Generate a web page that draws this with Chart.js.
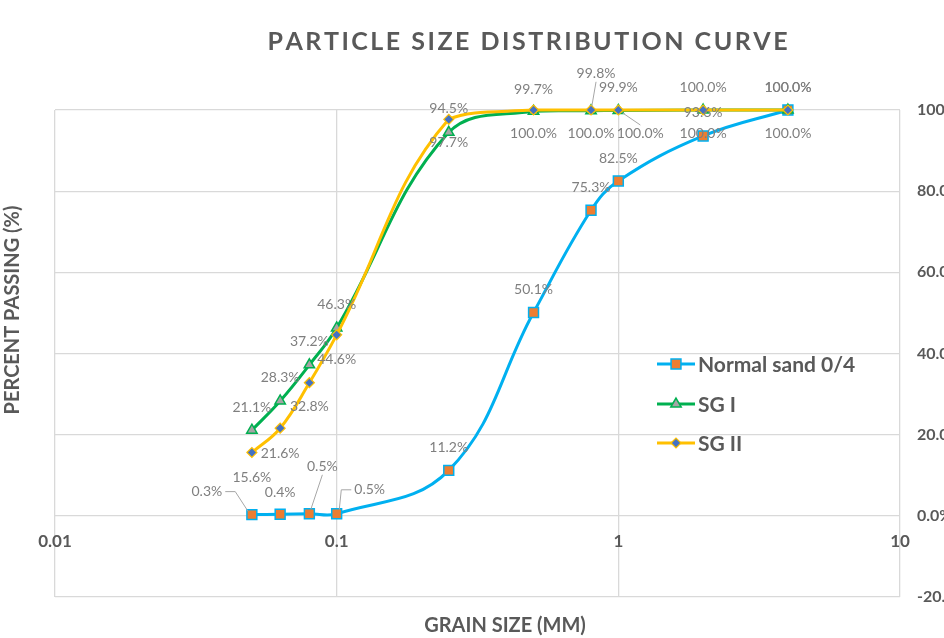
<!DOCTYPE html>
<html><head><meta charset="utf-8">
<script src="https://cdn.jsdelivr.net/npm/chart.js@4/dist/chart.umd.min.js"></script>
<style>html,body{margin:0;padding:0;background:#fff}#wrap{width:944px;height:638px;position:relative}</style>
</head><body><div id="wrap"><canvas id="c" width="944" height="638"></canvas></div>
<script>
// ---- data ----
const chartTitle = 'PARTICLE SIZE DISTRIBUTION CURVE';
const xAxisTitle = 'GRAIN SIZE (MM)';
const yAxisTitle = 'PERCENT PASSING (%)';
const grainSizes = [0.05, 0.063, 0.08, 0.1, 0.25, 0.5, 0.8, 1, 2, 4];
const normalSand = [0.3, 0.4, 0.5, 0.5, 11.2, 50.1, 75.3, 82.5, 93.6, 100];
const sgI = [21.1, 28.3, 37.2, 46.3, 94.5, 99.7, 99.8, 99.9, 100, 100];
const sgII = [15.6, 21.6, 32.8, 44.6, 97.7, 100, 100, 100, 100, 100];
const seriesNames = ['Normal sand 0/4', 'SG I', 'SG II'];
const xTickValues = [0.01, 0.1, 1, 10];
const xTickLabels = ['0.01', '0.1', '1', '10'];
const yMin = -20, yMax = 100, yStep = 20;

// ---- label placement (style: offset dx, dy in px, leader line flag) ----
const normalLabelPos = [[-45,-23,1],[0,-22,0],[13,-47,1],[33,-24,1],[0,-23,0],[0,-23,0],[0,-23,0],[0,-23,0],[0,-23,0],[0,-23,0]];
const sgILabelPos = [[0,-23,0],[0,-23,0],[0,-23,0],[0,-23,0],[0,-24,0],[0,-22,0],[5,-37,1],[0,-23,0],[0,-23,0],[0,-23,0]];
const sgIILabelPos = [[0,25,0],[0,25,0],[0,24,0],[0,25,0],[0,23,0],[0,23,0],[0,23,0],[22,23,1],[0,23,0],[0,23,0]];

const FONT = 'Lato, "Liberation Sans", sans-serif';
const AXIS_COLOR = '#595959';

const toPts = arr => grainSizes.map((x, i) => ({x: x, y: arr[i]}));

const styles = [
  {line:'#00B0F0', fill:'#ED7D31', stroke:'#00B0F0', shape:'rect', r:7, bw:1.5},
  {line:'#00B050', fill:'#A5A5A5', stroke:'#00B050', shape:'triangle', r:6, bw:1.5},
  {line:'#FFC000', fill:'#4472C4', stroke:'#FFC000', shape:'rectRot', r:5, bw:1.2}
];
const seriesData = [normalSand, sgI, sgII];
const labelPos = [normalLabelPos, sgILabelPos, sgIILabelPos];

const datasets = seriesData.map((arr, k) => ({
  label: seriesNames[k],
  data: toPts(arr),
  borderColor: styles[k].line,
  borderWidth: 3,
  tension: 0.4,
  pointStyle: styles[k].shape,
  pointRadius: styles[k].r,
  pointBackgroundColor: styles[k].fill,
  pointBorderColor: styles[k].stroke,
  pointBorderWidth: styles[k].bw,
  clip: false,
  order: 3 - k
}));

const decor = {
  id: 'decor',
  afterDatasetsDraw(chart) {
    const ctx = chart.ctx;
    const xs = chart.scales.x, ys = chart.scales.y;
    ctx.save();
    // x tick labels next to the 0 line
    ctx.font = 'bold 17px ' + FONT;
    ctx.fillStyle = AXIS_COLOR;
    ctx.textAlign = 'center';
    ctx.textBaseline = 'middle';
    const y0 = ys.getPixelForValue(0);
    xTickValues.forEach((v, i) => {
      ctx.fillText(xTickLabels[i], xs.getPixelForValue(v), y0 + 26);
    });
    // data labels
    ctx.font = '14px ' + FONT;
    for (let k = 0; k < 3; k++) {
      const meta = chart.getDatasetMeta(k);
      meta.data.forEach((pt, i) => {
        const [dx, dy, leader] = labelPos[k][i];
        const lx = pt.x + dx, ly = pt.y + dy;
        const txt = seriesData[k][i].toFixed(1) + '%';
        const w = ctx.measureText(txt).width;
        if (leader) {
          const side = Math.abs(dx) > w / 2 + 2;
          let sx, sy;
          if (side) { sx = lx + Math.sign(-dx) * (w / 2 + 3); sy = ly; }
          else { sx = lx; sy = ly + Math.sign(-dy) * 8; }
          const vx = pt.x - sx, vy = pt.y - sy;
          const len = Math.hypot(vx, vy);
          const ex = pt.x - vx / len * 5, ey = pt.y - vy / len * 5;
          ctx.strokeStyle = '#a6a6a6';
          ctx.lineWidth = 1;
          ctx.beginPath();
          ctx.moveTo(sx, sy);
          if (side) ctx.lineTo(sx + Math.sign(-dx) * 10, sy);
          ctx.lineTo(ex, ey);
          ctx.stroke();
        }
        ctx.fillStyle = '#7f7f7f';
        ctx.fillText(txt, lx, ly);
      });
    }
    ctx.restore();
  },
  afterDraw(chart) {
    const ctx = chart.ctx;
    const ca = chart.chartArea;
    ctx.save();
    ctx.fillStyle = AXIS_COLOR;
    // title with letter spacing
    ctx.font = 'bold 25px ' + FONT;
    ctx.textBaseline = 'middle';
    ctx.textAlign = 'left';
    const spacing = 2.5;
    const chars = chartTitle.split('');
    const total = chars.reduce((s, c) => s + ctx.measureText(c).width, 0) + spacing * (chars.length - 1);
    let cx = ca.left + (ca.right - ca.left) / 2 + 50 - total / 2;
    chars.forEach(c => { ctx.fillText(c, cx, 42); cx += ctx.measureText(c).width + spacing; });
    // x axis title
    ctx.font = 'bold 20px ' + FONT;
    ctx.textAlign = 'center';
    ctx.fillText(xAxisTitle, 505, ca.bottom + 29);
    // y axis title
    ctx.save();
    ctx.translate(13, 310);
    ctx.rotate(-Math.PI / 2);
    ctx.font = 'bold 20px ' + FONT;
    ctx.fillText(yAxisTitle, 0, 0);
    ctx.restore();
    // legend
    const lx0 = ca.right - 243, lx1 = ca.right - 205, mx = (lx0 + lx1) / 2;
    const rows = [364, 404, 443];
    ctx.font = 'bold 21px ' + FONT;
    ctx.textAlign = 'left';
    for (let k = 0; k < 3; k++) {
      const y = rows[k];
      ctx.strokeStyle = styles[k].line;
      ctx.lineWidth = 3;
      ctx.beginPath(); ctx.moveTo(lx0, y); ctx.lineTo(lx1, y); ctx.stroke();
      ctx.fillStyle = styles[k].fill;
      ctx.strokeStyle = styles[k].stroke;
      ctx.lineWidth = styles[k].bw;
      Chart.helpers.drawPoint(ctx, {pointStyle: styles[k].shape, radius: styles[k].r, borderWidth: styles[k].bw}, mx, y);
      ctx.fillStyle = AXIS_COLOR;
      ctx.fillText(seriesNames[k], lx1 + 3, y + 1);
    }
    ctx.restore();
  }
};

new Chart(document.getElementById('c'), {
  type: 'line',
  data: { datasets: datasets },
  options: {
    responsive: false,
    animation: false,
    layout: { padding: { left: 55, top: 110, right: 0, bottom: 41 } },
    scales: {
      x: {
        type: 'logarithmic', min: 0.01, max: 10,
        afterBuildTicks: s => { s.ticks = xTickValues.map(v => ({value: v})); },
        afterFit: s => { s.height = 0; },
        ticks: { display: false },
        grid: { color: '#d9d9d9', lineWidth: 1.3, drawTicks: false },
        border: { display: false }
      },
      y: {
        position: 'right', min: yMin, max: yMax,
        ticks: { stepSize: yStep, padding: 17, color: AXIS_COLOR, font: { family: FONT, size: 16, weight: 'bold' },
                 callback: v => v.toFixed(1) + '%' },
        afterFit: s => { s.width = 44; },
        grid: { color: '#d9d9d9', lineWidth: 1.3, drawTicks: false },
        border: { display: false }
      }
    },
    plugins: { legend: { display: false }, tooltip: { enabled: false }, title: { display: false } }
  },
  plugins: [decor]
});
</script>
</body></html>
